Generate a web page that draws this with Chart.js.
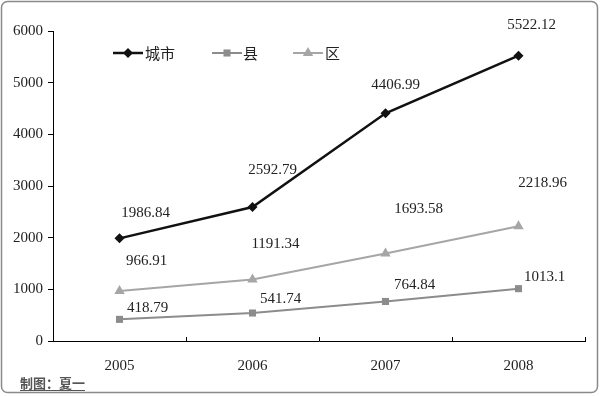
<!DOCTYPE html>
<html>
<head>
<meta charset="utf-8">
<script src="https://cdn.jsdelivr.net/npm/chart.js@4"></script>
<style>
  body { margin: 0; background: #fff; }
  #wrap { width: 600px; height: 396px; }
</style>
</head>
<body>
<div id="wrap"><canvas id="grafico" width="600" height="396"></canvas></div>
<script>
// categorias e series
const anos = ['2005', '2006', '2007', '2008'];
const cidade = [1986.84, 2592.79, 4406.99, 5522.12];
const condado = [418.79, 541.74, 764.84, 1013.1];
const distrito = [966.91, 1191.34, 1693.58, 2218.96];
const nomes = ['城市', '县', '区'];
const yTicks = [0, 1000, 2000, 3000, 4000, 5000, 6000];

// deslocamento dos rotulos em px (dx, dy) relativo ao ponto
const offCidade = [[26, -25], [20, -37], [10, -28], [13, -31]];
const offCondado = [[28, -11], [28, -14], [29, -16], [26, -12]];
const offDistrito = [[27, -30], [23, -35], [33, -44], [24, -43]];

const serif = '"Liberation Serif", "Times New Roman", serif';
const cjk = '"Noto Sans CJK SC", sans-serif';

const moldura = {
    id: 'moldura',
    beforeDraw(chart) {
        const c = chart.ctx;
        c.save();
        c.fillStyle = '#fff';
        c.fillRect(0, 0, chart.width, chart.height);
        c.strokeStyle = '#8a8a8a';
        c.lineWidth = 1.5;
        c.beginPath();
        c.roundRect(1.5, 1.5, 596, 391, 6);
        c.stroke();
        c.restore();
    },
    afterDraw(chart) {
        const c = chart.ctx;
        const x = chart.scales.x;
        const bottom = chart.chartArea.bottom;
        c.save();
        c.strokeStyle = '#000';
        c.lineWidth = 1;
        // tracinhos entre categorias
        for (let i = 0; i < anos.length; i++) {
            const px = Math.round(x.getPixelForValue(i + 0.5)) + 0.5;
            c.beginPath();
            c.moveTo(px, bottom);
            c.lineTo(px, bottom - 4);
            c.stroke();
        }
        // legenda
        const itens = [
            { x0: 113, tx: 145, cor: '#111', estilo: 'rectRot', r: 5 },
            { x0: 212, tx: 243, cor: '#8c8c8c', estilo: 'rect', r: 5 },
            { x0: 293, tx: 325, cor: '#a6a6a6', estilo: 'triangle', r: 6 }
        ];
        const ly = 53;
        itens.forEach((it, k) => {
            c.strokeStyle = it.cor;
            c.lineWidth = k === 0 ? 2.5 : 2;
            c.beginPath();
            c.moveTo(it.x0, ly);
            c.lineTo(it.x0 + 30, ly);
            c.stroke();
            c.fillStyle = it.cor;
            Chart.helpers.drawPoint(c, { pointStyle: it.estilo, radius: it.r, borderWidth: 0 }, it.x0 + 15, ly);
            c.fillStyle = '#222';
            c.font = '15px ' + cjk;
            c.textBaseline = 'middle';
            c.textAlign = 'left';
            c.fillText(nomes[k], it.tx, ly);
        });
        // rodape
        c.fillStyle = '#555';
        c.font = 'bold 13px ' + cjk;
        c.textBaseline = 'alphabetic';
        c.fillText('制图：夏一', 20, 388);
        const w = c.measureText('制图：夏一').width;
        c.strokeStyle = '#555';
        c.lineWidth = 1;
        c.beginPath();
        c.moveTo(20, 390.5);
        c.lineTo(20 + w, 390.5);
        c.stroke();
        c.restore();
    }
};

const rotulos = {
    id: 'rotulos',
    afterDatasetsDraw(chart) {
        const c = chart.ctx;
        const offs = [offCidade, offCondado, offDistrito];
        c.save();
        c.font = '15px ' + serif;
        c.fillStyle = '#222';
        c.textAlign = 'center';
        c.textBaseline = 'middle';
        chart.data.datasets.forEach((ds, d) => {
            chart.getDatasetMeta(d).data.forEach((p, i) => {
                c.fillText(String(ds.data[i]), p.x + offs[d][i][0], p.y + offs[d][i][1]);
            });
        });
        c.restore();
    }
};

const ctx = document.getElementById('grafico').getContext('2d');
const myChart = new Chart(ctx, {
    type: 'line',
    data: {
        labels: anos,
        datasets: [{
            label: nomes[0],
            data: cidade,
            borderColor: '#111',
            backgroundColor: '#111',
            borderWidth: 2.5,
            pointStyle: 'rectRot',
            pointRadius: 5,
            pointBorderWidth: 0
        }, {
            label: nomes[1],
            data: condado,
            borderColor: '#8c8c8c',
            backgroundColor: '#8c8c8c',
            borderWidth: 2,
            pointStyle: 'rect',
            pointRadius: 5,
            pointBorderWidth: 0
        }, {
            label: nomes[2],
            data: distrito,
            borderColor: '#a6a6a6',
            backgroundColor: '#a6a6a6',
            borderWidth: 2,
            pointStyle: 'triangle',
            pointRadius: 6,
            pointBorderWidth: 0
        }],
    },
    options: {
        responsive: false,
        animation: false,
        layout: { padding: { top: 31, right: 15, left: 0, bottom: 0 } },
        plugins: {
            legend: { display: false },
            tooltip: { enabled: false }
        },
        scales: {
            x: {
                offset: true,
                grid: { display: false },
                border: { display: true, color: '#000', width: 1 },
                ticks: { color: '#222', font: { family: serif, size: 15 }, padding: 8 },
                afterFit(s) { s.height = 55; }
            },
            y: {
                min: 0,
                max: 6000,
                afterBuildTicks(s) { s.ticks = yTicks.map(v => ({ value: v })); },
                grid: { drawOnChartArea: false, drawTicks: true, tickLength: 5, color: '#000' },
                border: { display: true, color: '#000', width: 1 },
                ticks: { color: '#222', font: { family: serif, size: 15 }, padding: 5, callback: v => String(v) },
                afterFit(s) { s.width = 53; }
            }
        }
    },
    plugins: [moldura, rotulos]
});
</script>
</body>
</html>
